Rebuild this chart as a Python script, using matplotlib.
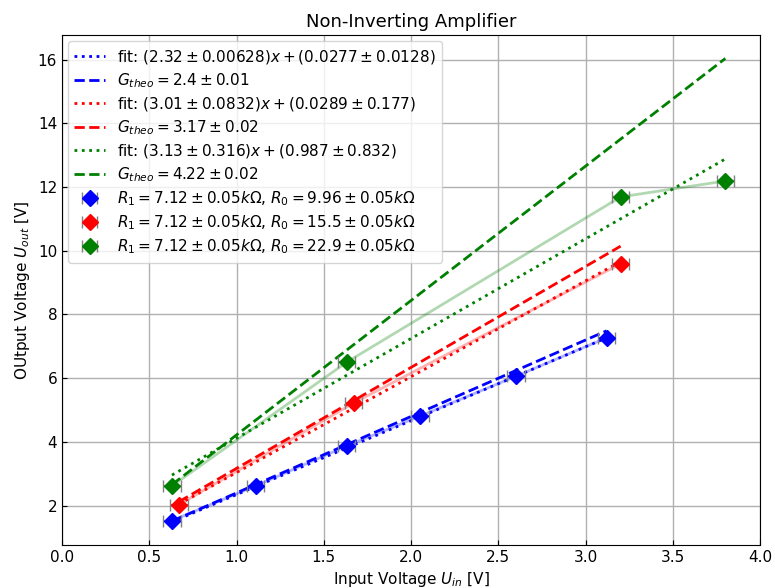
import numpy as np
import matplotlib
matplotlib.use('Agg')
import matplotlib.pyplot as plt

u_in_blue = [0.63, 1.11, 1.63, 2.05, 2.60, 3.12]
u_out_blue = [1.53, 2.62, 3.87, 4.81, 6.06, 7.27]
u_in_red = [0.67, 1.67, 3.20]
u_out_red = [2.03, 5.22, 9.59]
u_in_green = [0.63, 1.63, 3.20, 3.80]
u_out_green = [2.62, 6.50, 11.69, 12.19]

#   Fit and theory parameters
fit_slope = [2.32, 3.01, 3.13]
fit_offset = [0.0277, 0.0289, 0.987]
fit_labels = [r'fit: $(2.32 \pm 0.00628)x + (0.0277 \pm 0.0128)$',
              r'fit: $(3.01 \pm 0.0832)x + (0.0289 \pm 0.177)$',
              r'fit: $(3.13 \pm 0.316)x + (0.987 \pm 0.832)$']
g_theo = [2.4, 3.17, 4.22]
theo_labels = [r'$G_{theo} = 2.4 \pm 0.01$',
               r'$G_{theo} = 3.17 \pm 0.02$',
               r'$G_{theo} = 4.22 \pm 0.02$']
data_labels = [r'$R_1 = 7.12 \pm 0.05k\Omega$, $R_0 = 9.96 \pm 0.05k\Omega$',
               r'$R_1 = 7.12 \pm 0.05k\Omega$, $R_0 = 15.5 \pm 0.05k\Omega$',
               r'$R_1 = 7.12 \pm 0.05k\Omega$, $R_0 = 22.9 \pm 0.05k\Omega$']
colors = ['blue', 'red', 'green']
x_err = 0.05

xs = [u_in_blue, u_in_red, u_in_green]
ys = [u_out_blue, u_out_red, u_out_green]

plt.rcParams['font.size'] = 11

fig = plt.figure(figsize=(7.75, 5.88), dpi=100)
ax = fig.add_axes([0.080, 0.073, 0.901, 0.867])

#   Fit and theory lines
for i in range(3):
    x = np.array(xs[i])
    x_line = np.array([x.min(), x.max()])
    ax.plot(x_line, fit_slope[i] * x_line + fit_offset[i], ':', color=colors[i],
            lw=2, label=fit_labels[i])
    ax.plot(x_line, g_theo[i] * x_line, '--', color=colors[i], lw=2,
            label=theo_labels[i])

#   Data points with error bars
for i in range(3):
    ax.plot(xs[i], ys[i], '-', color=colors[i], alpha=0.3, lw=2)
    ax.errorbar(xs[i], ys[i], xerr=x_err, fmt='D', color=colors[i], ms=8,
                ecolor='gray', capsize=4, elinewidth=1.5, label=data_labels[i],
                zorder=5)

ax.set_xlim(0, 4)
ax.grid(True, color='#b0b0b0', lw=1)
ax.tick_params(direction='in')
ax.set_title('Non-Inverting Amplifier', fontsize=13)
ax.set_xlabel(r'Input Voltage $U_{in}$ [V]')
ax.set_ylabel(r'OUtput Voltage $U_{out}$ [V]')
ax.legend(loc='upper left', labelspacing=0.35, borderaxespad=0.4)

plt.savefig('out.png', dpi=100)
